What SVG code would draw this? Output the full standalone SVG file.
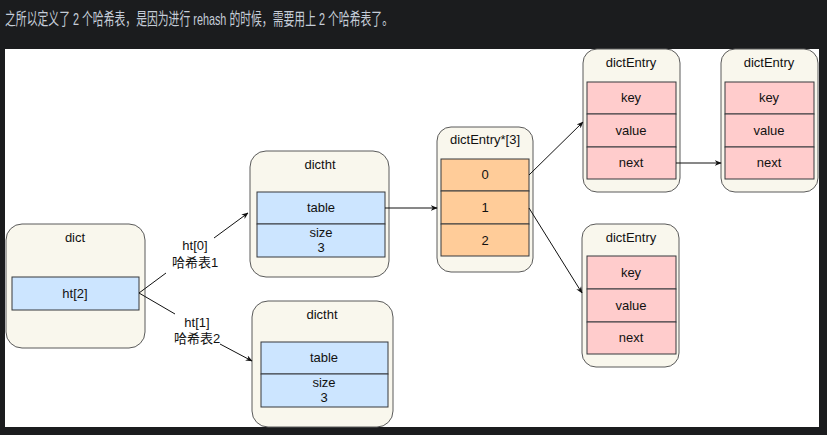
<svg xmlns="http://www.w3.org/2000/svg" width="827" height="435" viewBox="0 0 827 435">
<defs>
<style>
.box{fill:#f9f7ed;stroke:#5a5a5a;stroke-width:1}
.blue{fill:#cce5ff;stroke:#36393d;stroke-width:1}
.orange{fill:#ffcc99;stroke:#36393d;stroke-width:1}
.pink{fill:#ffcccc;stroke:#36393d;stroke-width:1}
text{font-family:"Liberation Sans","Noto Sans CJK SC",sans-serif;font-size:13px;fill:#111;text-anchor:middle}
.edge{stroke:#111;stroke-width:1;fill:none;marker-end:url(#arr)}
.lbl{font-size:13px}
</style>
<marker id="arr" viewBox="0 0 10 10" refX="9" refY="5" markerWidth="7" markerHeight="7" orient="auto" markerUnits="userSpaceOnUse">
<path d="M0,1 L10,5 L0,9 L3,5 Z" fill="#111"/>
</marker>
</defs>
<rect x="0" y="0" width="827" height="435" fill="#1b1c1e"/>
<text x="5" y="25" style="text-anchor:start;font-size:17px;fill:#c5cdd8" textLength="388" lengthAdjust="spacingAndGlyphs">之所以定义了 2 个哈希表，是因为进行 rehash 的时候，需要用上 2 个哈希表了。</text>
<rect x="5" y="49" width="814" height="378" fill="#ffffff"/>

<g id="dict">
<rect class="box" x="6" y="224" width="139" height="124" rx="16"/>
<text x="75" y="242">dict</text>
<rect class="blue" x="12" y="277" width="127" height="33"/>
<text x="75" y="298">ht[2]</text>
</g>

<g id="dictht0">
<rect class="box" x="250" y="151" width="139" height="126" rx="16"/>
<text x="320" y="169">dictht</text>
<rect class="blue" x="257" y="192" width="128" height="32"/>
<text x="321" y="212">table</text>
<rect class="blue" x="257" y="224" width="128" height="33"/>
<text x="321" y="237">size</text>
<text x="321" y="252">3</text>
</g>

<g id="dictht1">
<rect class="box" x="252" y="301" width="141" height="126" rx="16"/>
<text x="322" y="319">dictht</text>
<rect class="blue" x="261" y="342" width="127" height="32"/>
<text x="324" y="362">table</text>
<rect class="blue" x="261" y="374" width="127" height="33"/>
<text x="324" y="387">size</text>
<text x="324" y="402">3</text>
</g>

<g id="table">
<rect class="box" x="437" y="127" width="96" height="145" rx="14"/>
<text x="485" y="144">dictEntry*[3]</text>
<rect class="orange" x="441" y="159" width="88" height="32"/>
<text x="485" y="179">0</text>
<rect class="orange" x="441" y="191" width="88" height="33"/>
<text x="485" y="212">1</text>
<rect class="orange" x="441" y="224" width="88" height="32"/>
<text x="485" y="245">2</text>
</g>

<g id="entry1">
<rect class="box" x="583" y="49" width="97" height="143" rx="14"/>
<text x="631" y="67">dictEntry</text>
<rect class="pink" x="587" y="82" width="89" height="32"/>
<text x="631" y="102">key</text>
<rect class="pink" x="587" y="114" width="89" height="33"/>
<text x="631" y="135">value</text>
<rect class="pink" x="587" y="147" width="89" height="32"/>
<text x="631" y="167">next</text>
</g>

<g id="entry2">
<rect class="box" x="721" y="49" width="97" height="143" rx="14"/>
<text x="769" y="67">dictEntry</text>
<rect class="pink" x="725" y="82" width="89" height="32"/>
<text x="769" y="102">key</text>
<rect class="pink" x="725" y="114" width="89" height="33"/>
<text x="769" y="135">value</text>
<rect class="pink" x="725" y="147" width="89" height="32"/>
<text x="769" y="167">next</text>
</g>

<g id="entry3">
<rect class="box" x="582" y="224" width="97" height="143" rx="14"/>
<text x="631" y="242">dictEntry</text>
<rect class="pink" x="587" y="256" width="89" height="33"/>
<text x="631" y="277">key</text>
<rect class="pink" x="587" y="289" width="89" height="33"/>
<text x="631" y="310">value</text>
<rect class="pink" x="587" y="322" width="89" height="32"/>
<text x="631" y="342">next</text>
</g>

<g id="connectors">
<path class="edge" d="M139,293 L166,273 M214,238 L248,213"/>
<path class="edge" d="M139,293 L175,314 M220,344 L252,361"/>
<path class="edge" d="M385,208 L437,208"/>
<path class="edge" d="M529,175 L583,122"/>
<path class="edge" d="M529,208 L582,293"/>
<path class="edge" d="M676,163 L721,163"/>
<text class="lbl" x="195" y="250">ht[0]</text>
<text class="lbl" x="195" y="267">哈希表1</text>
<text class="lbl" x="197" y="327">ht[1]</text>
<text class="lbl" x="197" y="343">哈希表2</text>
</g>
</svg>
